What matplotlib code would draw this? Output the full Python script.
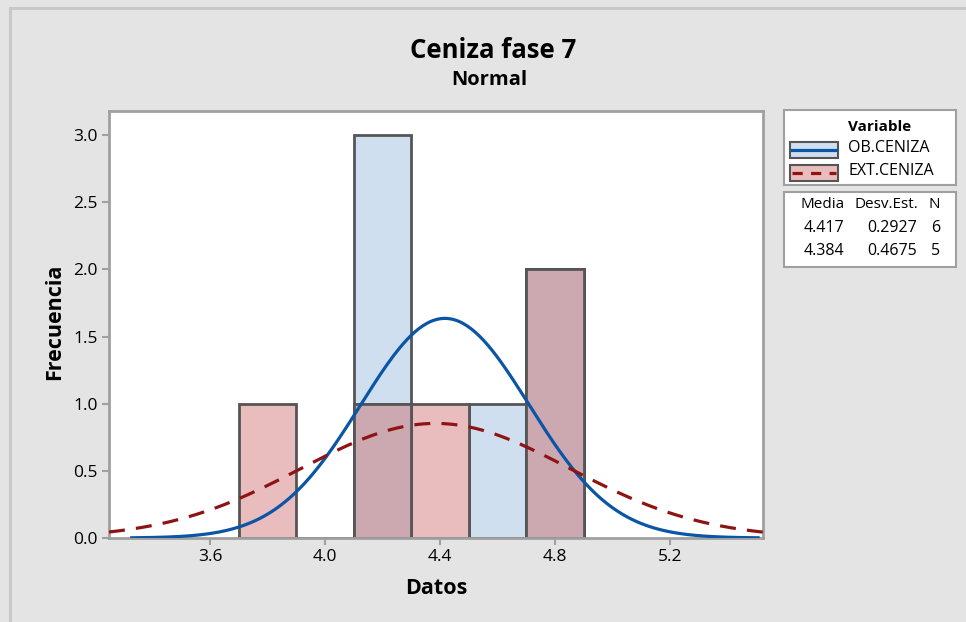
import matplotlib
matplotlib.use("Agg")
import matplotlib.pyplot as plt
from matplotlib.patches import Rectangle
from matplotlib.lines import Line2D
import numpy as np

plt.rcParams['font.family'] = ['Open Sans', 'DejaVu Sans']

# data
bin_centers = [3.8, 4.0, 4.2, 4.4, 4.6, 4.8]
bin_width = 0.2
ob_counts = [0, 0, 3, 0, 1, 2]
ext_counts = [1, 0, 1, 1, 0, 2]
series_names = ["OB.CENIZA", "EXT.CENIZA"]
means = [4.417, 4.384]
stdevs = [0.2927, 0.4675]
sizes = [6, 5]
x_ticks = [3.6, 4.0, 4.4, 4.8, 5.2]
y_ticks = [0.0, 0.5, 1.0, 1.5, 2.0, 2.5, 3.0]

W, H = 966, 622
BG = '#e4e4e4'
OB_FILL = '#d0dff0'
EXT_FILL = '#e9bdbe'
BOTH_FILL = '#cca8b1'
OB_LINE = '#0a55a5'
EXT_LINE = '#8e1414'
EDGE = '#555555'
FRAME = '#a0a0a0'


def px(x):
    return x / W


def py(y):
    return 1 - y / H


def normal_curve(x, mu, sd, n):
    ''' fitted normal curve scaled to the histogram counts'''
    return n * bin_width * np.exp(-0.5 * ((x - mu) / sd) ** 2) / (sd * np.sqrt(2 * np.pi))


fig = plt.figure(figsize=(W / 100, H / 100), dpi=100, facecolor=BG)
fig.patches.append(Rectangle((px(10), py(700)), 1.2, py(8) - py(700), transform=fig.transFigure,
                             facecolor='none', edgecolor='#c8c8c8', linewidth=2.2))

ax = fig.add_axes([px(109), py(538), px(763) - px(109), py(111) - py(538)])
ax.set_facecolor('white')

ax.bar(bin_centers, ob_counts, width=bin_width, color=OB_FILL, edgecolor=EDGE, linewidth=2, zorder=2)
ax.bar(bin_centers, ext_counts, width=bin_width, color=EXT_FILL, edgecolor=EDGE, linewidth=2, zorder=2)
ax.bar(bin_centers, np.minimum(ob_counts, ext_counts), width=bin_width, color=BOTH_FILL,
       edgecolor=EDGE, linewidth=2, zorder=2)

x_lo, x_hi = 3.249, 5.523
xs_ob = np.linspace(means[0] - 3.72 * stdevs[0], means[0] + 3.72 * stdevs[0], 300)
xs_ext = np.linspace(x_lo, x_hi, 300)
ax.plot(xs_ob, normal_curve(xs_ob, means[0], stdevs[0], sizes[0]), color=OB_LINE, linewidth=2.3, zorder=3)
ax.plot(xs_ext, normal_curve(xs_ext, means[1], stdevs[1], sizes[1]), color=EXT_LINE, linewidth=2.3,
        dashes=(5, 3.5), zorder=3, clip_on=True)

ax.set_xlim(x_lo, x_hi)
ax.set_ylim(0, 3.18)
ax.set_xticks(x_ticks)
ax.set_xticklabels([f"{t:.1f}" for t in x_ticks])
ax.set_yticks(y_ticks)
ax.set_yticklabels([f"{t:.1f}" for t in y_ticks])
ax.tick_params(direction='out', length=5, width=1.5, color=FRAME, labelsize=12.5, pad=3)
for s in ax.spines.values():
    s.set_color(FRAME)
    s.set_linewidth(2)

fig.text(px(436), py(588), "Datos", ha='center', va='center', fontsize=15.5, fontweight='bold')
fig.text(px(55), py(322), "Frecuencia", ha='center', va='center', rotation=90, fontsize=15.5, fontweight='bold')
fig.text(px(493), py(50), "Ceniza fase 7", ha='center', va='center', fontsize=18.5, fontweight='bold')
fig.text(px(489), py(80), "Normal", ha='center', va='center', fontsize=14.5, fontweight='bold')

# legend box
fig.patches.append(Rectangle((px(784), py(185)), px(956) - px(784), py(110) - py(185), transform=fig.transFigure,
                             facecolor='white', edgecolor=FRAME, linewidth=1.5))
fig.text(px(880), py(127), "Variable", ha='center', va='center', fontsize=11, fontweight='bold')
fills = [OB_FILL, EXT_FILL]
lines = [dict(color=OB_LINE), dict(color=EXT_LINE, dashes=(3.2, 2.6))]
for i, name in enumerate(series_names):
    yc = 150 + i * 23
    fig.patches.append(Rectangle((px(790), py(yc + 8)), px(838) - px(790), py(yc - 8) - py(yc + 8),
                                 transform=fig.transFigure, facecolor=fills[i], edgecolor=EDGE, linewidth=1.5))
    fig.lines.append(Line2D([px(792), px(836)], [py(yc), py(yc)], transform=fig.transFigure,
                            linewidth=2.3, **lines[i]))
    fig.text(px(848), py(yc - 2), name, ha='left', va='center', fontsize=11.5)

# stats box
fig.patches.append(Rectangle((px(784), py(267)), px(956) - px(784), py(192) - py(267), transform=fig.transFigure,
                             facecolor='white', edgecolor=FRAME, linewidth=1.5))
fig.text(px(845), py(205), "Media", ha='right', va='center', fontsize=11)
fig.text(px(918), py(205), "Desv.Est.", ha='right', va='center', fontsize=11)
fig.text(px(940), py(205), "N", ha='right', va='center', fontsize=11)
for i in range(len(series_names)):
    yc = 228 + i * 23
    fig.text(px(844), py(yc), f"{means[i]:.3f}", ha='right', va='center', fontsize=11.5)
    fig.text(px(917), py(yc), f"{stdevs[i]:.4f}", ha='right', va='center', fontsize=11.5)
    fig.text(px(940), py(yc), f"{sizes[i]}", ha='right', va='center', fontsize=11.5)

fig.savefig("out.png", dpi=100, facecolor=BG)
